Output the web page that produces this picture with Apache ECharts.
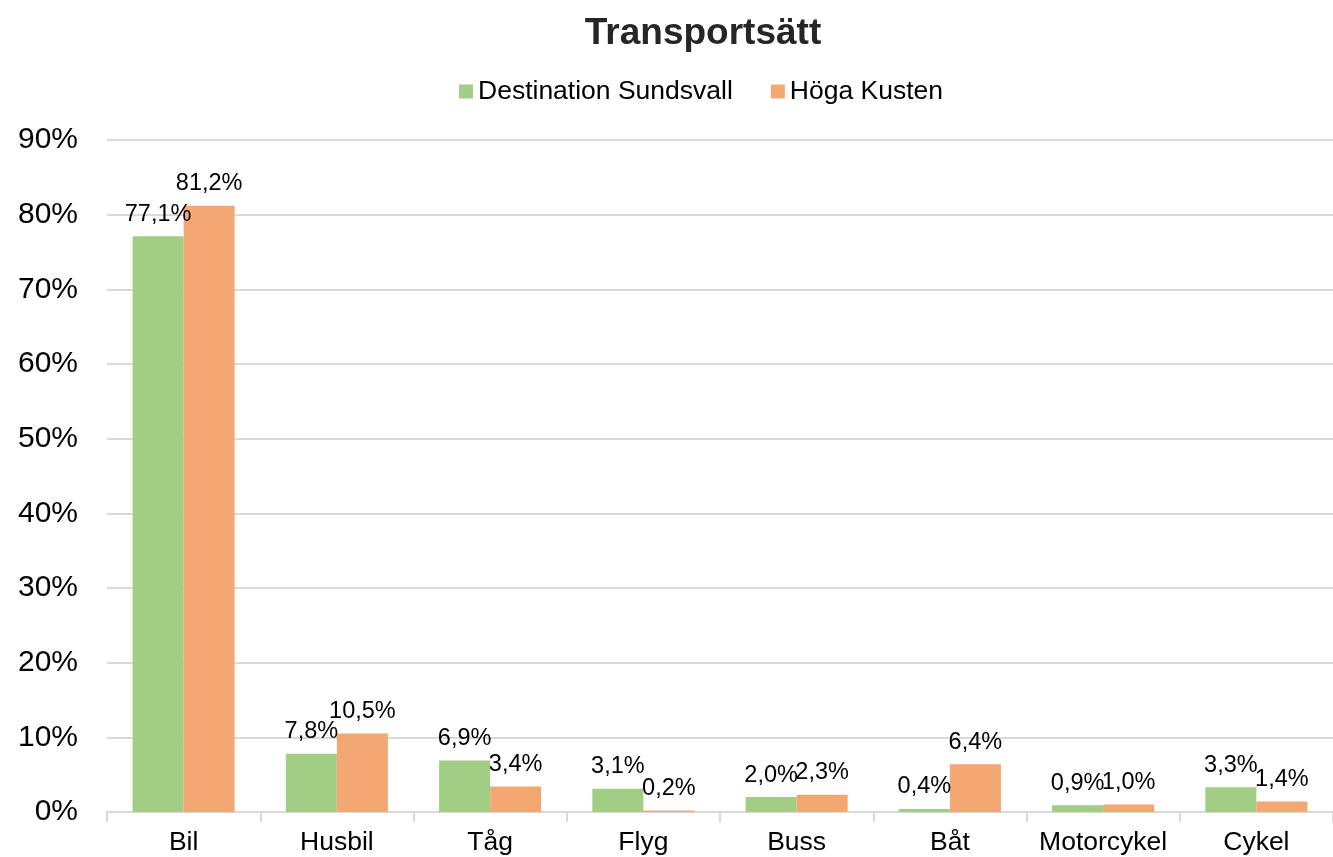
<!DOCTYPE html>
<html><head><meta charset="utf-8">
<script src="https://cdn.jsdelivr.net/npm/echarts@6/dist/echarts.min.js"></script>
<style>html,body{margin:0;padding:0;background:#fff}#c{width:1333px;height:857px}</style>
</head><body><div id="c"></div>
<script>
const categories = ['Bil','Husbil','Tåg','Flyg','Buss','Båt','Motorcykel','Cykel'];
const sundsvall = [77.1, 7.8, 6.9, 3.1, 2.0, 0.4, 0.9, 3.3];
const hogaKusten = [81.2, 10.5, 3.4, 0.2, 2.3, 6.4, 1.0, 1.4];
const seriesNames = ['Destination Sundsvall', 'Höga Kusten'];
const yTicks = [0,10,20,30,40,50,60,70,80,90];

const font = 'Liberation Sans, Arial, sans-serif';
const fmt = v => v.toFixed(1).replace('.', ',') + '%';
const chart = echarts.init(document.getElementById('c'));
const labelCfg = {show:true, position:'top', distance:10, color:'#000', fontSize:23.5, fontFamily:font,
  formatter: p => fmt(p.value)};
chart.setOption({
  animation:false,
  title:{text:'Transportsätt', left:698, top:10, textAlign:'center',
    textStyle:{fontSize:37, fontWeight:'bold', color:'#262626', fontFamily:font}},
  legend:{left:459, top:78, padding:0, itemWidth:14, itemHeight:14, itemGap:38,
    icon:'rect', textStyle:{fontSize:26.5, color:'#000', fontFamily:font},
    data:seriesNames},
  grid:{left:107, top:140, bottom:45, width:1234, containLabel:false},
  xAxis:{type:'category', data:categories,
    axisLine:{lineStyle:{color:'#d9d9d9', width:2}},
    axisTick:{show:true, length:10, lineStyle:{color:'#d9d9d9', width:2}},
    axisLabel:{fontSize:26.5, color:'#000', fontFamily:font, margin:17, interval:0}},
  yAxis:{type:'value', min:yTicks[0], max:yTicks[yTicks.length-1], interval:10,
    axisLine:{show:false}, axisTick:{show:false},
    splitLine:{lineStyle:{color:'#d9d9d9', width:2}},
    axisLabel:{fontSize:30, color:'#000', fontFamily:font, margin:29, formatter:'{value}%'}},
  series:[
    {name:seriesNames[0], type:'bar', data:sundsvall, barWidth:'33.3%', barGap:'0%',
      itemStyle:{color:'#a1cd85'}, label:labelCfg},
    {name:seriesNames[1], type:'bar', data:hogaKusten, barWidth:'33.3%', barGap:'0%',
      itemStyle:{color:'#f3a873'}, label:labelCfg}
  ]
});
</script></body></html>
